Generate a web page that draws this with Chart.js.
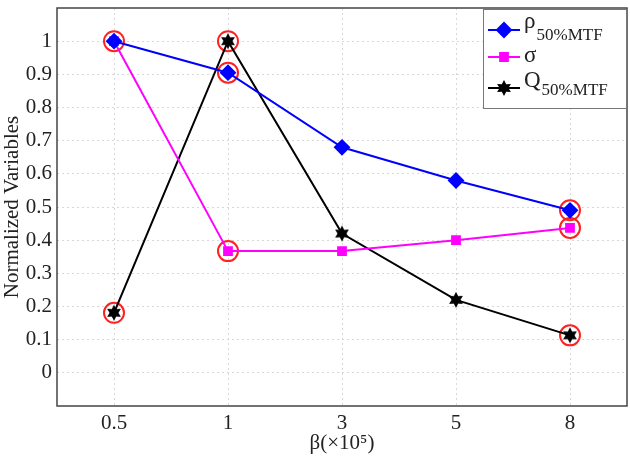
<!DOCTYPE html>
<html>
<head>
<meta charset="utf-8">
<script src="https://cdn.jsdelivr.net/npm/chart.js@4.4.1/dist/chart.umd.min.js"></script>
<style>
  html, body { margin: 0; padding: 0; background: #fff; overflow: hidden; }
</style>
</head>
<body>
<canvas id="chart" width="630" height="460"></canvas>
<script>
// data
const betaLabels = ['0.5', '1', '3', '5', '8'];
const rhoValues = [1, 0.905, 0.68, 0.58, 0.49];
const sigmaValues = [1, 0.367, 0.367, 0.40, 0.437];
const qValues = [0.181, 1, 0.42, 0.22, 0.113];
// which points get the red ring, per series
const rhoRinged = [1, 4];
const sigmaRinged = [0, 1, 4];
const qRinged = [0, 1, 4];
const yTicks = [0, 0.1, 0.2, 0.3, 0.4, 0.5, 0.6, 0.7, 0.8, 0.9, 1];

const SERIF = '"Liberation Serif", "DejaVu Serif", serif';

// filled six point star for the Q series
function makeStar(r, color) {
  let c = document.createElement('canvas');
  c.width = c.height = r * 2 + 2;
  let g = c.getContext('2d');
  let cx = r + 1, cy = r + 1;
  g.beginPath();
  for (let i = 0; i < 12; i++) {
    let a = -Math.PI / 2 + i * Math.PI / 6;
    let rr = i % 2 == 0 ? r : r * 0.55;
    g.lineTo(cx + rr * Math.cos(a), cy + rr * Math.sin(a));
  }
  g.closePath();
  g.fillStyle = color;
  g.fill();
  return c;
}
const starImg = makeStar(8, '#000');

function ringed(values, idx) {
  return values.map((v, i) => idx.includes(i) ? v : null);
}

function ringSet(values, idx) {
  return {
    label: 'ring',
    data: ringed(values, idx),
    showLine: false,
    pointStyle: 'circle',
    pointRadius: 10,
    pointHoverRadius: 10,
    pointBorderWidth: 2,
    pointBorderColor: '#ff2020',
    pointBackgroundColor: 'rgba(0,0,0,0)',
    order: 10
  };
}

const legendItems = [
  { main: 'ρ', sub: '50%MTF', color: '#0000ff', style: 'rectRot', r: 7, y: 30, base: 28, subBase: 40 },
  { main: 'σ', sub: '', color: '#ff00ff', style: 'rect', r: 5.5, y: 57, base: 62 },
  { main: 'Q', sub: '50%MTF', color: '#000000', style: starImg, r: 8, y: 88, base: 87, subBase: 95 }
];

const framePlugin = {
  id: 'frame',
  afterDraw(chart) {
    let { ctx, chartArea: a } = chart;
    ctx.save();
    ctx.strokeStyle = '#444';
    ctx.lineWidth = 1.5;
    ctx.strokeRect(a.left, a.top, a.right - a.left, a.bottom - a.top);

    // legend box
    let bx = 483, by = 9, bw = 143, bh = 99;
    ctx.fillStyle = '#fff';
    ctx.fillRect(bx, by, bw, bh);
    ctx.strokeStyle = '#777';
    ctx.lineWidth = 1;
    ctx.strokeRect(bx + 0.5, by + 0.5, bw, bh);

    legendItems.forEach(item => {
      let y = item.y;
      ctx.strokeStyle = item.color;
      ctx.fillStyle = item.color;
      ctx.lineWidth = 2;
      ctx.beginPath();
      ctx.moveTo(bx + 5, y);
      ctx.lineTo(bx + 37, y);
      ctx.stroke();
      Chart.helpers.drawPoint(ctx, {
        pointStyle: item.style, radius: item.r, rotation: 0, borderWidth: 1
      }, bx + 21, y);
      ctx.fillStyle = '#222';
      ctx.textBaseline = 'alphabetic';
      ctx.font = '23px ' + SERIF;
      let tx = bx + 41;
      ctx.fillText(item.main, tx, item.base);
      if (item.sub) {
        let w = ctx.measureText(item.main).width;
        ctx.font = '17px ' + SERIF;
        ctx.fillText(item.sub, tx + w + 1, item.subBase);
      }
    });
    ctx.restore();
  }
};

function seriesSet(label, values, color, style, r) {
  return {
    label: label,
    data: values,
    borderColor: color,
    backgroundColor: color,
    borderWidth: 2,
    pointStyle: style,
    pointRadius: r,
    pointHoverRadius: r,
    pointBackgroundColor: color,
    pointBorderColor: color,
    tension: 0,
    order: 1
  };
}

new Chart(document.getElementById('chart'), {
  type: 'line',
  data: {
    labels: betaLabels,
    datasets: [
      seriesSet('ρ50%MTF', rhoValues, '#0000ff', 'rectRot', 7),
      seriesSet('σ', sigmaValues, '#ff00ff', 'rect', 5.5),
      seriesSet('Q50%MTF', qValues, '#000000', starImg, 8),
      ringSet(rhoValues, rhoRinged),
      ringSet(sigmaValues, sigmaRinged),
      ringSet(qValues, qRinged)
    ]
  },
  options: {
    responsive: false,
    animation: false,
    layout: { autoPadding: false, padding: { top: 8, right: 3, left: 0, bottom: 0 } },
    plugins: {
      legend: { display: false },
      tooltip: { enabled: false }
    },
    scales: {
      x: {
        offset: true,
        grid: { color: '#d8d8d8', drawTicks: false, offset: false },
        border: { display: false, dash: [2, 3] },
        ticks: { color: '#222', font: { family: SERIF, size: 21 }, padding: 5 },
        title: {
          display: true, text: 'β(×10⁵)', color: '#222',
          font: { family: SERIF, size: 21 }, padding: { top: 0, bottom: 4 }
        },
        afterFit(s) { s.height = 54; s.paddingLeft = 0; s.paddingRight = 0; }
      },
      y: {
        min: -0.1,
        max: 1.1,
        afterBuildTicks(s) { s.ticks = yTicks.map(v => ({ value: v })); },
        grid: { color: '#d8d8d8', drawTicks: false },
        border: { display: false, dash: [2, 3] },
        ticks: {
          color: '#222', font: { family: SERIF, size: 21 }, padding: 5,
          callback: v => String(v)
        },
        title: {
          display: true, text: 'Normalized Variables', color: '#222',
          font: { family: SERIF, size: 21 }, padding: { top: 0, bottom: 0 }
        },
        afterFit(s) { s.width = 57; s.paddingTop = 0; s.paddingBottom = 0; }
      }
    }
  },
  plugins: [framePlugin]
});
</script>
</body>
</html>
